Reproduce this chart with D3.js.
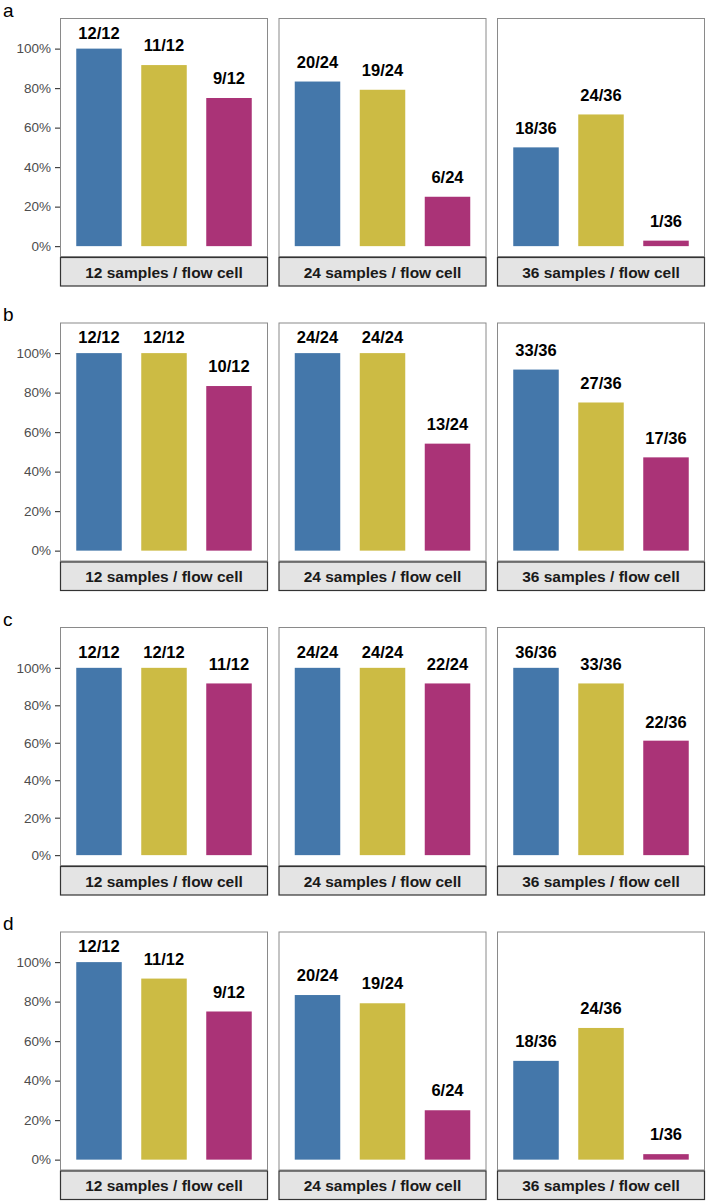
<!DOCTYPE html>
<html>
<head>
<meta charset="utf-8">
<script src="https://cdn.jsdelivr.net/npm/d3@7"></script>
<style>
  body { margin: 0; background: #fff; }
  text { font-family: "Liberation Sans", Arial, sans-serif; }
</style>
</head>
<body>
<div class="svg-container"></div>
<script>
var width = 709;
var height = 1204;

// data
var rowLetters = ["a", "b", "c", "d"];
var facets = ["12 samples / flow cell", "24 samples / flow cell", "36 samples / flow cell"];
var facetTotals = [12, 24, 36];
var groups = ["g1", "g2", "g3"];
var groupColors = ["#4477AA", "#CCBB44", "#AA3377"];
var rowA = [[12, 11, 9], [20, 19, 6], [18, 24, 1]];
var rowB = [[12, 12, 10], [24, 24, 13], [33, 27, 17]];
var rowC = [[12, 12, 11], [24, 24, 22], [36, 33, 22]];
var rowD = [[12, 11, 9], [20, 19, 6], [18, 24, 1]];
var rows = [rowA, rowB, rowC, rowD];
var yLimits = [1.1, 1.1, 1.16, 1.1];
var yTicks = [0, 0.2, 0.4, 0.6, 0.8, 1.0];

// layout
var panelLefts = [60, 278.5, 497];
var panelWidth = 208;
var panelHeight = 239;
var stripHeight = 29.5;
var firstTop = 18;
var rowStep = 304.5;

var svg = d3.select(".svg-container")
            .append("svg")
            .attr("width", width)
            .attr("height", height);

var xScale = d3.scaleBand()
               .domain(groups)
               .range([0, panelWidth])
               .paddingInner(0.3)
               .paddingOuter(0.25);

rows.forEach(function(rowData, r) {
    var top = firstTop + r * rowStep;
    var lim = yLimits[r];
    var pad = lim * 0.05;

    var yScale = d3.scaleLinear()
                   .domain([-pad, lim + pad])
                   .range([top + panelHeight, top]);

    // row letter
    svg.append("text")
       .attr("x", 3)
       .attr("y", top - 1.5)
       .attr("font-size", 19)
       .attr("fill", "#000")
       .text(rowLetters[r]);

    // y axis on the first panel
    var axis = svg.append("g")
                  .attr("transform", "translate(" + panelLefts[0] + ",0)")
                  .call(d3.axisLeft(yScale)
                          .tickValues(yTicks)
                          .tickSize(5)
                          .tickPadding(4)
                          .tickFormat(d3.format(".0%")));
    axis.select(".domain").remove();
    axis.selectAll(".tick line").attr("stroke", "#333").attr("stroke-width", 1.1);
    axis.selectAll(".tick text")
        .attr("fill", "#4d4d4d")
        .attr("font-size", 13.5)
        .style("font-family", "'Liberation Sans', Arial, sans-serif");

    rowData.forEach(function(counts, f) {
        var left = panelLefts[f];
        var total = facetTotals[f];
        var g = svg.append("g").attr("transform", "translate(" + left + ",0)");

        var values = counts.map(function(c, i) {
            return { group: groups[i], n: c, total: total, v: c / total, color: groupColors[i] };
        });

        g.selectAll("rect.bar")
         .data(values)
         .enter()
         .append("rect")
         .attr("class", "bar")
         .attr("x", function(d) { return xScale(d.group); })
         .attr("width", xScale.bandwidth())
         .attr("y", function(d) { return yScale(d.v); })
         .attr("height", function(d) { return yScale(0) - yScale(d.v); })
         .attr("fill", function(d) { return d.color; });

        g.selectAll("text.lab")
         .data(values)
         .enter()
         .append("text")
         .attr("class", "lab")
         .attr("x", function(d) { return xScale(d.group) + xScale.bandwidth() / 2; })
         .attr("y", function(d) { return yScale(Math.min(d.v + 0.07, 1.05)); })
         .attr("text-anchor", "middle")
         .attr("font-size", 16.5)
         .attr("font-weight", "bold")
         .attr("fill", "#000")
         .text(function(d) { return d.n + "/" + d.total; });

        // panel border
        g.append("rect")
         .attr("x", 0.5)
         .attr("y", top + 0.5)
         .attr("width", panelWidth - 1)
         .attr("height", panelHeight - 1)
         .attr("fill", "none")
         .attr("stroke", "#8a8a8a")
         .attr("stroke-width", 1);

        // strip
        g.append("rect")
         .attr("x", 0.5)
         .attr("y", top + panelHeight + 0.5)
         .attr("width", panelWidth - 1)
         .attr("height", stripHeight - 1)
         .attr("fill", "#e4e4e4")
         .attr("stroke", "#333")
         .attr("stroke-width", 1.2);

        g.append("text")
         .attr("x", panelWidth / 2)
         .attr("y", top + panelHeight + stripHeight / 2 + 6)
         .attr("text-anchor", "middle")
         .attr("font-size", 15.5)
         .attr("font-weight", "bold")
         .attr("fill", "#1a1a1a")
         .text(facets[f]);
    });
});
</script>
</body>
</html>
